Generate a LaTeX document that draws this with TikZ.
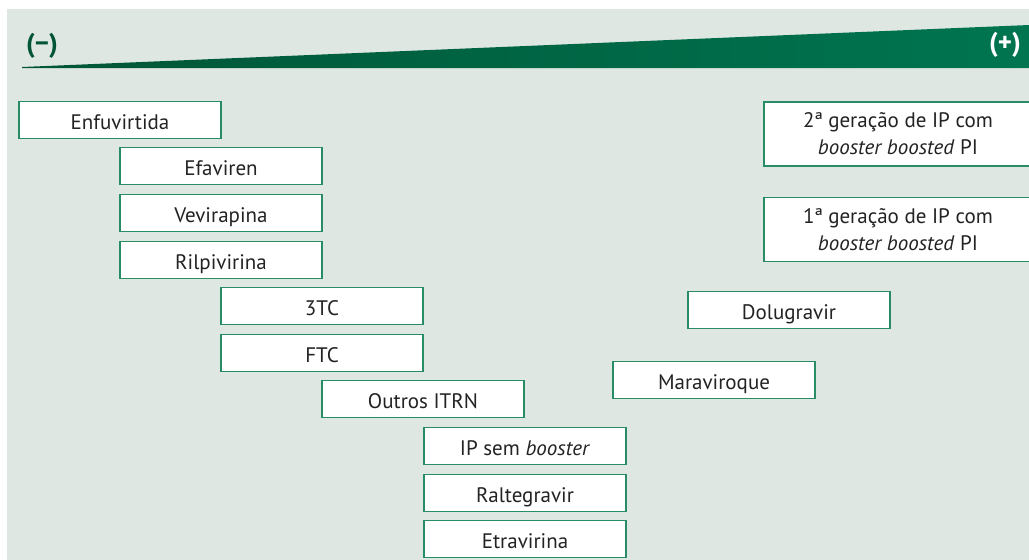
\documentclass[tikz,border=0pt]{standalone}
\usepackage{fontspec}
\setmainfont{PT Sans}
\definecolor{panel}{RGB}{223,231,226}
\definecolor{gdark}{RGB}{0,85,55}
\definecolor{glight}{RGB}{0,117,80}
\definecolor{boxline}{RGB}{40,140,100}
\definecolor{txt}{RGB}{35,35,35}
\tikzset{
  drug/.style={draw=boxline, line width=1.3pt, fill=white, minimum width=202pt, minimum height=37pt,
    inner sep=0pt, font=\fontsize{21}{27}\selectfont, text=txt, text height=18pt, text depth=0pt},
  wide/.style={drug, minimum width=268pt, minimum height=64pt, align=center, text height=, text depth=},
  sign/.style={font=\fontsize{27}{30}\selectfont\bfseries, inner sep=0pt}
}
\begin{document}
\begin{tikzpicture}[x=1pt,y=-1pt]
\useasboundingbox (0,0) rectangle (1029,560);
\clip (0,0) rectangle (1029,560);
\fill[white] (0,0) rectangle (1029,560);
\fill[panel] (7,9) rectangle (1029,560);
\shade[left color=gdark, right color=glight] (22,67) -- (1029,25) -- (1029,68) -- (22,68) -- cycle;
\node[sign, text=gdark] (minus) at (42,46) {(−)};
\node[sign, text=white] (plus) at (1005,45) {(+)};

\node[drug] (enf) at (120,120) {Enfuvirtida};
\node[drug] (efa) at (221,166) {Efaviren};
\node[drug] (vev) at (221,213) {Vevirapina};
\node[drug] (ril) at (221,260) {Rilpivirina};
\node[drug] (tc3) at (322,306) {3TC};
\node[drug] (ftc) at (322,353) {FTC};
\node[drug] (itrn) at (423,399) {Outros ITRN};
\node[drug] (ipsb) at (525,446) {IP sem \textit{booster}};
\node[drug] (ral) at (525,493) {Raltegravir};
\node[drug] (etr) at (525,539) {Etravirina};
\node[drug] (mar) at (714,380) {Maraviroque};
\node[drug] (dol) at (789,310) {Dolugravir};
\node[wide] (ip2) at (898,134) {2ª geração de IP com\\\textit{booster boosted} PI};
\node[wide] (ip1) at (898,229.5) {1ª geração de IP com\\\textit{booster boosted} PI};
\end{tikzpicture}
\end{document}
